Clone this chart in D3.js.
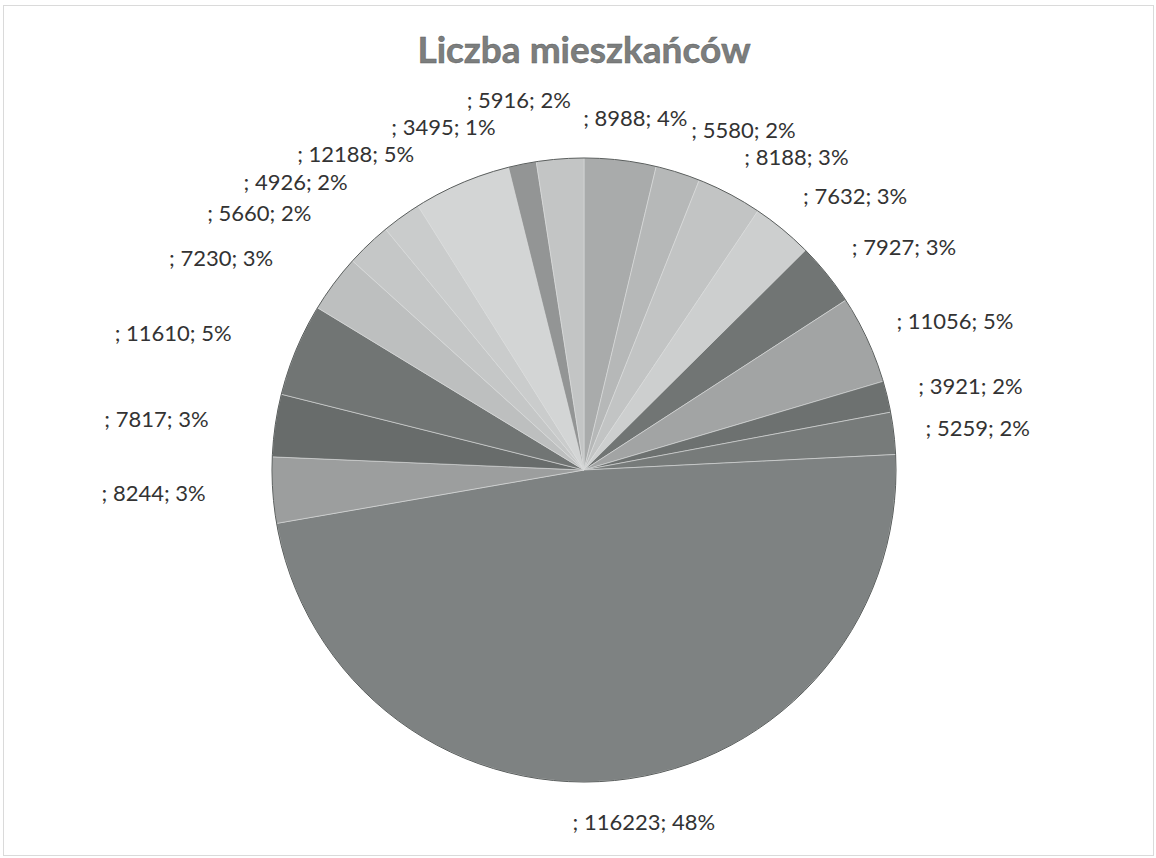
<!DOCTYPE html>
<html lang="pl">
<head>
<meta charset="UTF-8">
<title>Liczba mieszkańców</title>
<script src="https://d3js.org/d3.v7.min.js"></script>
<style>
  body { margin: 0; background: #fff; }
  text { font-family: Lato, "Liberation Sans", sans-serif; }
</style>
</head>
<body>
<svg id="chart" width="1156" height="858"></svg>
<script>
// slices clockwise from 12 o'clock, category names are empty in the source
const values = [8988, 5580, 8188, 7632, 7927, 11056, 3921, 5259, 116223,
                8244, 7817, 11610, 7230, 5660, 4926, 12188, 3495, 5916];
const categories = values.map(() => "");
const shades = ["#a9abab", "#b6b8b8", "#c2c4c4", "#cdcfcf", "#717574", "#a2a4a4",
                "#6d7170", "#777b7a", "#7e8282", "#9c9e9e", "#686c6b", "#717574",
                "#bdbfbf", "#c5c7c7", "#cacccc", "#d3d5d5", "#939595", "#c3c5c5"];
const title = "Liczba mieszkańców";

const W = 1156, H = 858;
const cx = 584, cy = 470, radius = 312;
const labelR = radius + 32;
const fontSize = 22, pad = 35;

const svg = d3.select("#chart");

// dotted chart border
svg.append("rect")
  .attr("x", 3.5).attr("y", 5.5)
  .attr("width", W - 6).attr("height", H - 8)
  .attr("fill", "none").attr("stroke", "#b5b5b5")
  .attr("stroke-dasharray", "1,1");

svg.append("text")
  .attr("x", cx).attr("y", 63)
  .attr("text-anchor", "middle")
  .attr("font-size", 37).attr("font-weight", "bold")
  .attr("fill", "#7c7e7e").attr("stroke", "#5d5f5f").attr("stroke-width", 0.5)
  .text(title);

const pie = d3.pie().sort(null).value(d => d)(values);
const total = d3.sum(values);
const arc = d3.arc().innerRadius(0).outerRadius(radius);

const g = svg.append("g").attr("transform", `translate(${cx},${cy})`);

g.selectAll("path")
  .data(pie)
  .join("path")
  .attr("d", arc)
  .attr("fill", (d, i) => shades[i])
  .attr("stroke", "#dadcdc")
  .attr("stroke-width", 0.6);

g.append("circle")
  .attr("r", radius)
  .attr("fill", "none")
  .attr("stroke", "#5a5e5d")
  .attr("stroke-width", 1);

// labels: "<category>; <value>; <percent>"
const labels = g.selectAll("text.lbl")
  .data(pie)
  .join("text")
  .attr("class", "lbl")
  .attr("font-size", fontSize)
  .attr("fill", "#333")
  .text((d, i) => `${categories[i]}; ${d.value}; ${Math.round(d.value / total * 100)}%`);

const boxes = [];
labels.each(function(d) {
  const a = (d.startAngle + d.endAngle) / 2;
  const s = Math.sin(a), c = Math.cos(a);
  const tw = this.getComputedTextLength();
  const bw = tw + pad, h = 21;
  const k = Math.max(-1, Math.min(1, s * 4));
  const bx = labelR * s + k * bw / 2;   // box centre
  const by = -labelR * c - c * h / 2;
  boxes.push({node: this, tw, h: 27, x: bx - bw / 2, y: by});
});

// simple overlap relaxation on the visible text part
for (let it = 0; it < 150; it++) {
  let moved = false;
  for (let i = 0; i < boxes.length; i++) {
    for (let j = i + 1; j < boxes.length; j++) {
      const A = boxes[i], B = boxes[j];
      const ox = Math.min(A.x + A.tw, B.x + B.tw) - Math.max(A.x, B.x) + 4;
      const oy = (A.h + B.h) / 2 - Math.abs(A.y - B.y);
      if (ox > 0 && oy > 0) {
        moved = true;
        if (ox < oy) {
          const sgn = (A.x + A.tw / 2) < (B.x + B.tw / 2) ? -1 : 1;
          A.x += sgn * ox / 2; B.x -= sgn * ox / 2;
        } else {
          const sgn = A.y < B.y ? -1 : 1;
          A.y += sgn * oy / 2; B.y -= sgn * oy / 2;
        }
      }
    }
  }
  if (!moved) break;
}

boxes.forEach(b => {
  d3.select(b.node)
    .attr("x", b.x)
    .attr("y", b.y + fontSize * 0.35);
});
</script>
</body>
</html>
